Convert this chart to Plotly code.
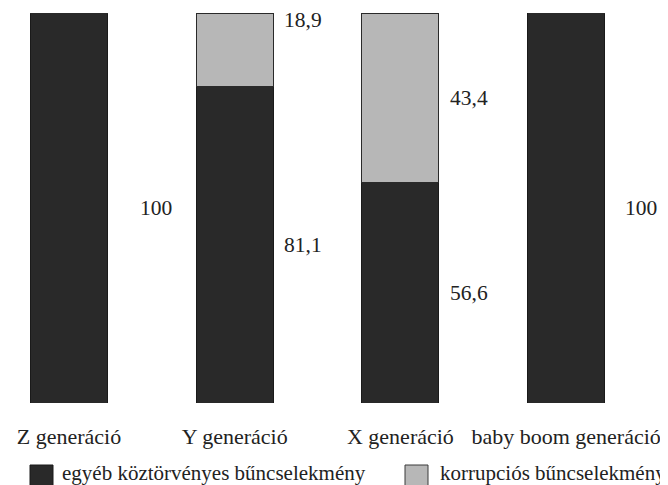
import plotly.graph_objects as go

categories = ["Z generáció", "Y generáció", "X generáció", "baby boom generáció"]
other_crime = [100, 81.1, 56.6, 100]
corruption = [0, 18.9, 43.4, 0]
other_labels = ["100", "81,1", "56,6", "100"]
corruption_labels = ["", "18,9", "43,4", ""]
series_names = ["egyéb köztörvényes bűncselekmény", "korrupciós bűncselekmény"]

DARK = "#292929"
LIGHT = "#b7b7b7"
FONT = "Liberation Serif"
W, H = 668, 485
ML, MR, MT, MB = 0, 0, 5, 90
PH = H - MT - MB

xpos = list(range(len(categories)))
fig = go.Figure()
fig.add_trace(go.Bar(x=xpos, y=other_crime, name=series_names[0], width=0.465,
                     marker=dict(color=DARK, line=dict(color="#1a1a1a", width=1))))
fig.add_trace(go.Bar(x=xpos, y=corruption, name=series_names[1], width=0.465,
                     marker=dict(color=LIGHT, line=dict(color="#2a2a2a", width=1))))

label_gap = [30, 9, 9, 18]
ann = []
for i in xpos:
    ann.append(dict(x=i + 0.2325, y=other_crime[i] / 2, text=other_labels[i], xref="x", yref="y",
                    xanchor="left", yanchor="middle", xshift=label_gap[i], showarrow=False,
                    font=dict(family=FONT, size=21.5, color="#222")))
    if corruption[i] > 0:
        mid = other_crime[i] + corruption[i] / 2
        shift = 30 if corruption[i] < 25 else 0
        ann.append(dict(x=i + 0.2325, y=mid, text=corruption_labels[i], xref="x", yref="y",
                        xanchor="left", yanchor="middle", xshift=label_gap[i], yshift=shift,
                        showarrow=False, font=dict(family=FONT, size=21.5, color="#222")))

# manual legend (large square swatches)
def px_x(p):
    return (p - ML) / (W - ML - MR)

def px_y(p):
    return (H - MB - p) / PH

shapes = []
legend_items = [(series_names[0], DARK, "#1a1a1a", 22, 52), (series_names[1], LIGHT, "#3a3a3a", 397, 430)]
for name, fill, edge, sx, tx in legend_items:
    shapes.append(dict(type="rect", xref="paper", yref="paper",
                       x0=px_x(sx), x1=px_x(sx + 23), y0=px_y(479), y1=px_y(457),
                       fillcolor=fill, line=dict(color=edge, width=1)))
    ann.append(dict(x=px_x(tx), y=px_y(465), xref="paper", yref="paper", text=name,
                    xanchor="left", yanchor="middle", showarrow=False,
                    font=dict(family=FONT, size=21, color="#222")))

fig.update_layout(
    barmode="stack",
    width=W, height=H,
    margin=dict(l=ML, r=MR, t=MT, b=MB),
    paper_bgcolor="white", plot_bgcolor="white",
    font=dict(family=FONT, size=21.5, color="#222"),
    annotations=ann,
    shapes=shapes,
    showlegend=False,
    xaxis=dict(tickmode="array", tickvals=xpos, ticktext=categories, range=[-0.368, 3.663],
               showgrid=False, zeroline=False, showline=False, ticks="", automargin=False,
               tickfont=dict(family=FONT, size=22, color="#222"), ticklabelstandoff=18),
    yaxis=dict(range=[0, 100], visible=False, showgrid=False, automargin=False),
)

fig.write_html("out.html")
